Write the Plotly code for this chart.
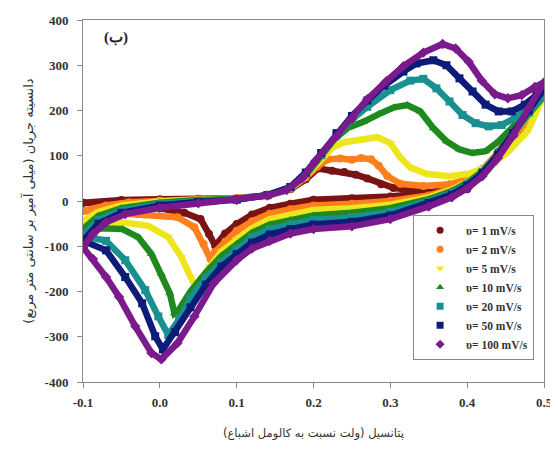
import plotly.graph_objects as go

# ---------------- data ----------------
potential_ticks = [-0.1, 0.0, 0.1, 0.2, 0.3, 0.4, 0.5]
potential_tick_labels = ["-0.1", "0.0", "0.1", "0.2", "0.3", "0.4", "0.5"]
current_ticks = [400, 300, 200, 100, 0, -100, -200, -300, -400]
current_tick_labels = ["400", "300", "200", "100", "0", "-100", "-200", "-300", "-400"]

scan_labels = ["υ= 1 mV/s", "υ= 2 mV/s", "υ= 5 mV/s", "υ= 10 mV/s",
               "υ= 20 mV/s", "υ= 50 mV/s", "υ= 100 mV/s"]

# 1 mV/s
v1_fwd = [-0.1, -0.05, 0.0, 0.05, 0.1, 0.14, 0.17, 0.19, 0.206, 0.224, 0.24, 0.255, 0.27, 0.288, 0.304, 0.334, 0.368, 0.40, 0.42, 0.44, 0.46, 0.48, 0.5]
i1_fwd = [-4, 2, 4, 5, 6, 12, 26, 48, 72, 67, 64, 58, 50, 37, 29, 22, 18, 26, 62, 108, 148, 192, 240]
v1_rev = [0.5, 0.48, 0.46, 0.44, 0.42, 0.40, 0.38, 0.35, 0.30, 0.25, 0.20, 0.17, 0.143, 0.12, 0.10, 0.085, 0.072, 0.064, 0.053, 0.032, 0.0, -0.05, -0.1]
i1_rev = [240, 186, 140, 102, 70, 46, 30, 18, 10, 6, 3, -6, -15, -30, -51, -72, -99, -73, -40, -26, -16, -9, -4]

# 2 mV/s
v2_fwd = [-0.1, -0.07, -0.04, 0.0, 0.05, 0.1, 0.14, 0.17, 0.19, 0.205, 0.219, 0.235, 0.25, 0.262, 0.275, 0.285, 0.296, 0.313, 0.343, 0.377, 0.411, 0.436, 0.46, 0.48, 0.5]
i2_fwd = [-22, -10, -3, 1, 4, 6, 12, 27, 52, 76, 92, 94, 91, 95, 92, 78, 55, 38, 33, 37, 54, 86, 130, 182, 235]
v2_rev = [0.5, 0.48, 0.46, 0.44, 0.42, 0.40, 0.38, 0.35, 0.30, 0.25, 0.20, 0.17, 0.143, 0.12, 0.10, 0.085, 0.072, 0.066, 0.057, 0.045, 0.023, -0.028, -0.1]
i2_rev = [235, 188, 142, 104, 70, 44, 28, 12, 0, -6, -10, -18, -28, -45, -66, -90, -112, -128, -95, -58, -36, -29, -22]

# 5 mV/s
v3_fwd = [-0.1, -0.08, -0.05, 0.0, 0.05, 0.1, 0.14, 0.17, 0.19, 0.21, 0.225, 0.24, 0.26, 0.283, 0.3, 0.313, 0.326, 0.347, 0.377, 0.402, 0.428, 0.453, 0.479, 0.5]
i3_fwd = [-44, -24, -10, -1, 3, 5, 12, 28, 55, 92, 118, 130, 136, 141, 128, 96, 74, 60, 55, 60, 76, 108, 155, 235]
v3_rev = [0.5, 0.48, 0.46, 0.44, 0.42, 0.40, 0.38, 0.35, 0.30, 0.25, 0.20, 0.17, 0.143, 0.12, 0.10, 0.08, 0.065, 0.055, 0.047, 0.04, 0.028, 0.011, -0.015, -0.049, -0.1]
i3_rev = [235, 190, 144, 104, 68, 42, 25, 8, -8, -16, -20, -30, -40, -60, -84, -112, -145, -170, -190, -168, -124, -80, -55, -47, -44]

# 10 mV/s
v4_fwd = [-0.1, -0.08, -0.05, 0.0, 0.05, 0.1, 0.14, 0.17, 0.19, 0.21, 0.228, 0.245, 0.265, 0.285, 0.305, 0.322, 0.339, 0.356, 0.373, 0.39, 0.407, 0.424, 0.441, 0.462, 0.483, 0.5]
i4_fwd = [-62, -33, -16, -4, 2, 5, 13, 29, 57, 98, 138, 162, 175, 192, 207, 212, 198, 161, 132, 114, 106, 110, 132, 168, 205, 232]
v4_rev = [0.5, 0.48, 0.46, 0.44, 0.42, 0.40, 0.38, 0.35, 0.30, 0.25, 0.20, 0.17, 0.143, 0.12, 0.10, 0.08, 0.06, 0.04, 0.025, 0.019, 0.013, 0.002, -0.011, -0.028, -0.049, -0.075, -0.1]
i4_rev = [232, 192, 146, 104, 66, 40, 22, 4, -16, -26, -32, -42, -52, -70, -95, -122, -158, -200, -240, -248, -204, -161, -117, -80, -62, -60, -62]

# 20 mV/s
v5_fwd = [-0.1, -0.08, -0.05, 0.0, 0.05, 0.1, 0.14, 0.17, 0.19, 0.21, 0.23, 0.25, 0.27, 0.3, 0.326, 0.343, 0.36, 0.377, 0.394, 0.411, 0.428, 0.445, 0.462, 0.479, 0.5]
i5_fwd = [-77, -42, -21, -7, 0, 4, 13, 30, 60, 102, 145, 180, 208, 245, 266, 270, 249, 220, 190, 172, 165, 168, 183, 205, 235]
v5_rev = [0.5, 0.48, 0.46, 0.44, 0.42, 0.40, 0.38, 0.35, 0.30, 0.25, 0.20, 0.17, 0.143, 0.12, 0.10, 0.08, 0.06, 0.04, 0.025, 0.011, -0.002, -0.019, -0.045, -0.07, -0.1]
i5_rev = [235, 195, 148, 104, 64, 37, 18, 0, -24, -36, -42, -52, -62, -80, -106, -135, -170, -215, -262, -296, -255, -197, -131, -88, -77]

# 50 mV/s
v6_fwd = [-0.1, -0.08, -0.05, 0.0, 0.05, 0.1, 0.14, 0.17, 0.19, 0.21, 0.23, 0.25, 0.27, 0.292, 0.317, 0.334, 0.356, 0.373, 0.39, 0.407, 0.424, 0.441, 0.458, 0.475, 0.49, 0.5]
i6_fwd = [-88, -50, -26, -10, -2, 3, 13, 31, 63, 106, 150, 188, 222, 255, 286, 304, 311, 300, 271, 242, 213, 198, 198, 213, 235, 248]
v6_rev = [0.5, 0.48, 0.46, 0.44, 0.42, 0.40, 0.38, 0.35, 0.30, 0.25, 0.20, 0.17, 0.143, 0.12, 0.10, 0.08, 0.06, 0.04, 0.02, 0.004, -0.006, -0.023, -0.045, -0.07, -0.1]
i6_rev = [248, 200, 150, 102, 62, 34, 14, -4, -32, -46, -52, -62, -74, -92, -117, -145, -185, -235, -290, -328, -299, -226, -168, -109, -88]

# 100 mV/s
v7_fwd = [-0.1, -0.087, -0.07, -0.045, 0.0, 0.05, 0.1, 0.14, 0.165, 0.185, 0.202, 0.228, 0.25, 0.27, 0.295, 0.317, 0.343, 0.368, 0.385, 0.402, 0.419, 0.436, 0.453, 0.471, 0.488, 0.5]
i7_fwd = [-102, -73, -47, -29, -15, -5, 2, 12, 24, 50, 88, 140, 182, 225, 265, 298, 328, 347, 337, 308, 266, 236, 227, 234, 252, 262]
v7_rev = [0.5, 0.48, 0.46, 0.44, 0.42, 0.40, 0.38, 0.35, 0.30, 0.25, 0.20, 0.17, 0.143, 0.12, 0.10, 0.07, 0.045, 0.023, 0.002, -0.011, -0.032, -0.053, -0.07, -0.087, -0.1]
i7_rev = [262, 205, 145, 95, 55, 28, 8, -12, -40, -56, -62, -72, -88, -105, -131, -182, -255, -314, -350, -336, -277, -212, -168, -128, -102]

colors = ["#7a1414", "#ff7f1e", "#eee61c", "#1e8a1e", "#1a9090", "#0c1c78", "#7a1a8c"]
symbols = ["circle", "circle", "triangle-down", "triangle-up", "square", "square", "diamond"]

curves = [
    (v1_fwd, i1_fwd, v1_rev, i1_rev),
    (v2_fwd, i2_fwd, v2_rev, i2_rev),
    (v3_fwd, i3_fwd, v3_rev, i3_rev),
    (v4_fwd, i4_fwd, v4_rev, i4_rev),
    (v5_fwd, i5_fwd, v5_rev, i5_rev),
    (v6_fwd, i6_fwd, v6_rev, i6_rev),
    (v7_fwd, i7_fwd, v7_rev, i7_rev),
]

fig = go.Figure()

for k, (vf, jf, vr, jr) in enumerate(curves):
    xs = vf + vr[1:]
    ys = jf + jr[1:]
    fig.add_trace(go.Scatter(
        x=xs, y=ys, mode="lines+markers",
        line=dict(color=colors[k], width=6.5),
        marker=dict(symbol=symbols[k], size=8, color=colors[k]),
        showlegend=False, hoverinfo="skip", cliponaxis=True,
    ))

# legend entries (markers only)
for k in range(7):
    fig.add_trace(go.Scatter(
        x=[None], y=[None], mode="markers", name=scan_labels[k],
        marker=dict(symbol=symbols[k], size=7, color=colors[k]),
    ))

serif = "Liberation Serif, Times New Roman, serif"

# page body has an 8px margin, so the figure is sized/placed to compensate
fig.update_layout(
    width=550, height=442,
    margin=dict(l=75, r=5, t=10, b=68),
    paper_bgcolor="white", plot_bgcolor="white",
    font=dict(family=serif, color="#333333"),
    showlegend=True,
    legend=dict(
        x=0.716, y=0.462, xanchor="left", yanchor="top",
        bgcolor="white", bordercolor="#888888", borderwidth=1,
        font=dict(family=serif, size=11.5, color="#333333", weight="bold"),
        itemsizing="trace", tracegroupgap=0, itemwidth=42,
    ),
    xaxis=dict(
        range=[-0.1, 0.5], tickvals=potential_ticks, ticktext=potential_tick_labels,
        showgrid=False, zeroline=False, showline=True, linecolor="#8a8a8a", linewidth=1,
        mirror=True, ticks="outside", ticklen=5, tickcolor="#8a8a8a",
        ticklabeloverflow="allow", ticklabelstandoff=3,
        tickfont=dict(family=serif, size=13, color="#333333", weight="bold"),
        title=dict(text="پتانسیل (ولت نسبت به کالومل اشباع)",
                   font=dict(family="DejaVu Sans", size=11.5, color="#333333"), standoff=20),
    ),
    yaxis=dict(
        range=[-400, 400], tickvals=current_ticks, ticktext=current_tick_labels,
        showgrid=False, zeroline=False, showline=True, linecolor="#8a8a8a", linewidth=1,
        mirror=True, ticks="outside", ticklen=5, tickcolor="#8a8a8a",
        ticklabelstandoff=6,
        tickfont=dict(family=serif, size=13, color="#333333", weight="bold"),
        title=dict(text="دانسیته جریان (میلی آمپر بر سانتی متر مربع)",
                   font=dict(family="DejaVu Sans", size=13, color="#333333"), standoff=8),
    ),
    annotations=[dict(
        x=0.072, y=0.953, xref="paper", yref="paper", text="(ب)", showarrow=False,
        xanchor="center", yanchor="middle",
        font=dict(family=serif, size=15, color="#222222", weight="bold"),
    )],
)

fig.write_html("out.html")
